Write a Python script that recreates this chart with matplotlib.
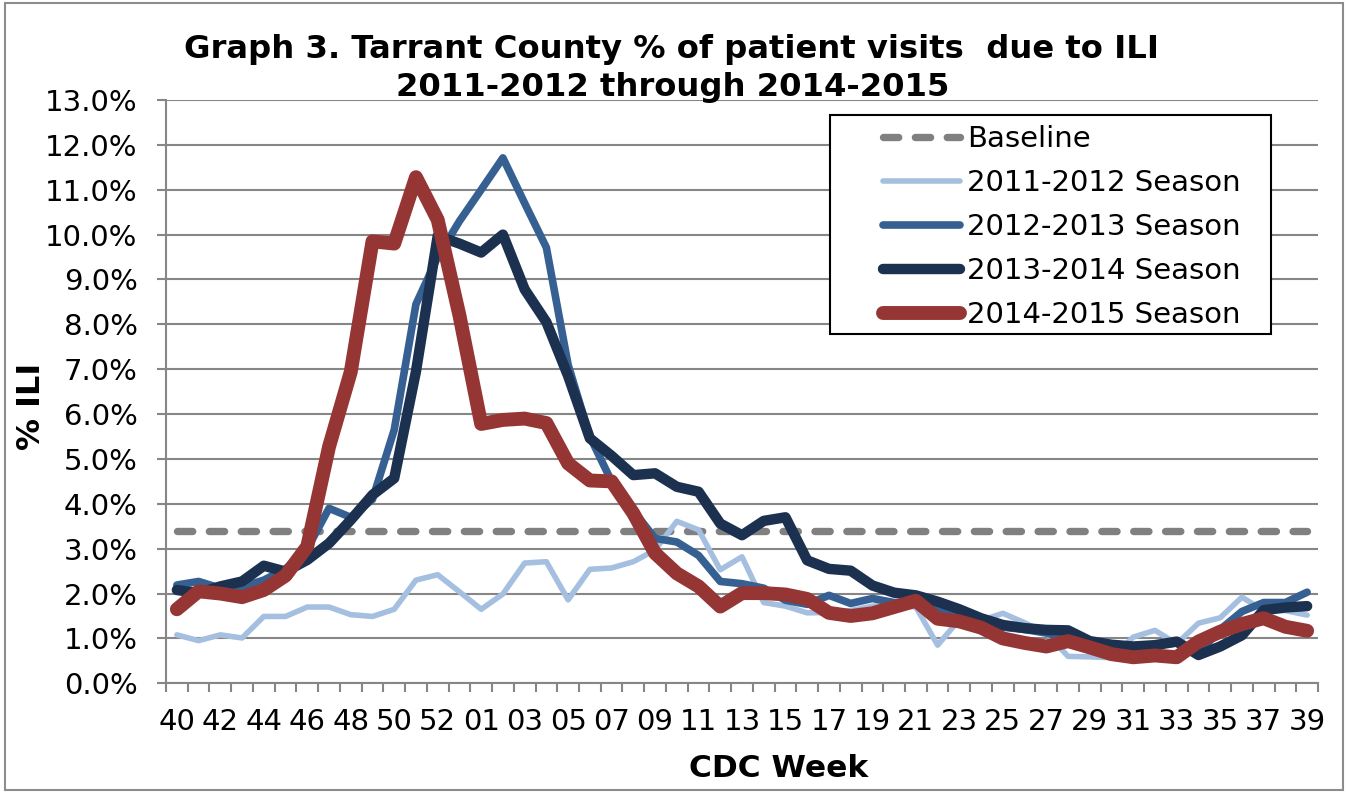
import matplotlib
matplotlib.use("Agg")
import matplotlib.pyplot as plt
from matplotlib.patches import Rectangle
import numpy as np

# CDC weeks, 2014-2015 had a week 53
weeks = ['40', '41', '42', '43', '44', '45', '46', '47', '48', '49', '50', '51', '52', '53',
         '01', '02', '03', '04', '05', '06', '07', '08', '09', '10', '11', '12', '13',
         '14', '15', '16', '17', '18', '19', '20', '21', '22', '23', '24', '25', '26',
         '27', '28', '29', '30', '31', '32', '33', '34', '35', '36', '37', '38', '39']

baseline = 3.4

season_1112 = [1.08, 0.95, 1.08, 1.01, 1.49, 1.49, 1.70, 1.70, 1.53, 1.49, 1.65, 2.30, 2.42, 2.04,
               1.65, 1.99, 2.68, 2.71, 1.86, 2.54, 2.57, 2.71, 2.97, 3.61, 3.42, 2.53, 2.82,
               1.80, 1.72, 1.57, 1.58, 1.62, 1.72, 1.75, 1.70, 0.85, 1.42, 1.40, 1.56, 1.35,
               1.12, 0.60, 0.59, 0.57, 1.03, 1.18, 0.88, 1.34, 1.46, 1.92, 1.62, 1.62, 1.52]

season_1213 = [2.19, 2.27, 2.12, 2.15, 2.30, 2.55, 3.00, 3.90, 3.70, 4.10, 5.65, 8.45, 9.50, 10.30,
               11.00, 11.71, 10.70, 9.71, 7.10, 5.50, 4.50, 3.85, 3.23, 3.15, 2.85, 2.27, 2.22,
               2.12, 1.85, 1.76, 1.96, 1.78, 1.89, 1.80, 1.80, 1.65, 1.50, 1.40, 1.25, 1.20,
               1.12, 1.00, 0.88, 0.85, 0.82, 0.85, 0.90, 0.66, 1.20, 1.60, 1.80, 1.80, 2.03]

season_1314 = [2.08, 2.01, 2.16, 2.27, 2.62, 2.49, 2.75, 3.12, 3.64, 4.20, 4.57, 6.95, 9.97, 9.80,
               9.60, 10.00, 8.78, 8.05, 6.85, 5.46, 5.07, 4.64, 4.68, 4.38, 4.27, 3.56, 3.30,
               3.62, 3.70, 2.74, 2.55, 2.51, 2.18, 2.02, 1.96, 1.82, 1.65, 1.45, 1.30, 1.23,
               1.19, 1.18, 0.94, 0.86, 0.82, 0.85, 0.93, 0.63, 0.82, 1.07, 1.63, 1.69, 1.72]

season_1415 = [1.65, 2.05, 2.00, 1.92, 2.08, 2.40, 3.05, 5.27, 6.94, 9.85, 9.80, 11.28, 10.33, 8.20,
               5.78, 5.87, 5.90, 5.80, 4.90, 4.52, 4.50, 3.79, 2.90, 2.45, 2.16, 1.71, 2.01,
               2.01, 1.98, 1.88, 1.57, 1.50, 1.56, 1.70, 1.84, 1.44, 1.38, 1.24, 1.00, 0.90,
               0.82, 0.94, 0.80, 0.65, 0.58, 0.62, 0.58, 0.93, 1.15, 1.32, 1.45, 1.26, 1.17]

W, H = 1348, 792
grey = '#868686'

fig = plt.figure(figsize=(W / 100, H / 100), dpi=100)
ax = fig.add_axes([166 / W, 1 - 683.3 / H, (1318 - 166) / W, (683.3 - 100) / H])

x = np.arange(len(weeks))

# series, baseline first so the seasons sit on top
ax.plot(x, [baseline] * len(weeks), color='#808080', lw=5.3, dashes=(2.07, 2.26),
        dash_capstyle='round', label='Baseline', zorder=2)
ax.plot(x, season_1112, color='#A5BFE0', lw=4.0, solid_capstyle='round',
        solid_joinstyle='round', label='2011-2012 Season', zorder=2)
ax.plot(x, season_1213, color='#376092', lw=5.5, solid_capstyle='round',
        solid_joinstyle='round', label='2012-2013 Season', zorder=2)
ax.plot(x, season_1314, color='#1C3150', lw=7.5, solid_capstyle='round',
        solid_joinstyle='round', label='2013-2014 Season', zorder=2)
ax.plot(x, season_1415, color='#963634', lw=10, solid_capstyle='round',
        solid_joinstyle='round', label='2014-2015 Season', zorder=2)

ax.set_xlim(-0.5, len(weeks) - 0.5)
ax.set_ylim(0, 13)

yt = np.arange(0, 14, 1)
ax.set_yticks(yt)
ax.set_yticklabels([f'{v:.1f}%' for v in yt])
ax.yaxis.grid(True, color=grey, lw=1.5)
ax.set_axisbelow(True)

ax.set_xticks(x[::2])
ax.set_xticklabels(weeks[::2])
ax.set_xticks(np.arange(-0.5, len(weeks), 1), minor=True)

for s in ['top', 'right']:
    ax.spines[s].set_visible(False)
for s in ['left', 'bottom']:
    ax.spines[s].set_color(grey)
    ax.spines[s].set_linewidth(1.5)

ax.tick_params(axis='y', which='major', length=6.5, width=1.5, color=grey,
               labelsize=21, pad=14)
ax.tick_params(axis='x', which='major', length=0, labelsize=21, pad=18)
ax.tick_params(axis='x', which='minor', length=6.5, width=1.5, color=grey)

# legend box drawn separately (white, black frame)
ax.add_patch(Rectangle((830 / W, 1 - 334 / H), (1271 - 830) / W, (334 - 115) / H,
                       transform=fig.transFigure, facecolor='white', edgecolor='black',
                       lw=1.5, zorder=4, clip_on=False))
leg = ax.legend(loc='upper left', bbox_to_anchor=(883 / W, 1 - 125 / H),
                bbox_transform=fig.transFigure, frameon=False, fontsize=21,
                borderpad=0, borderaxespad=0, handlelength=2.64, handletextpad=0.25,
                labelspacing=0.55)
leg.set_zorder(5)

# titles and axis labels
fig.text(672 / W, 1 - 58 / H, 'Graph 3. Tarrant County % of patient visits  due to ILI',
         ha='center', va='baseline', fontsize=23.2, fontweight='bold')
fig.text(673 / W, 1 - 96 / H, '2011-2012 through 2014-2015',
         ha='center', va='baseline', fontsize=23.2, fontweight='bold')
fig.text(779 / W, 1 - 777 / H, 'CDC Week', ha='center', va='baseline',
         fontsize=22.5, fontweight='bold')
fig.text(32 / W, 1 - 406 / H, '% ILI', ha='center', va='center', rotation=90,
         fontsize=23, fontweight='bold')

# outer chart border
fig.patches.append(Rectangle((5 / W, 2 / H), (1343 - 5) / W, (789 - 2) / H,
                             transform=fig.transFigure, fill=False,
                             edgecolor='#8c8c8c', lw=1.5))

fig.savefig('out.png', dpi=100)
